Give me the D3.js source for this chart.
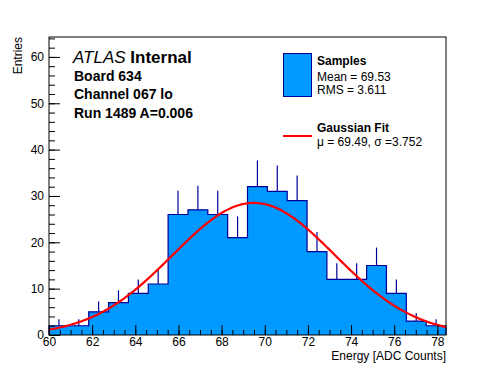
<!DOCTYPE html>
<html>
<head>
<meta charset="utf-8">
<script src="https://cdn.jsdelivr.net/npm/d3@7"></script>
<style>
  body { margin: 0; background: #fff; }
  svg { display: block; font-family: "Liberation Sans", Arial, Helvetica, sans-serif; }
</style>
</head>
<body>
<svg id="chart" width="496" height="372"></svg>
<script>
// histogram data
var binLow = [60, 60.92, 61.84, 62.76, 63.68, 64.6, 65.52, 66.44, 67.36, 68.28,
              69.2, 70.12, 71.04, 71.96, 72.88, 73.8, 74.72, 75.64, 76.56, 77.48];
var binWidth = 0.92;
var counts = [2, 2, 5, 7, 9, 11, 26, 27, 26, 21, 32, 31, 29, 18, 12, 12, 15, 9, 3, 2];
var errors = [1.41, 1.41, 2.24, 2.65, 3, 3.32, 5.1, 5.2, 5.1, 4.58,
              5.66, 5.57, 5.39, 4.24, 3.46, 3.46, 3.87, 3, 1.73, 1.41];

// gaussian fit parameters
var fitMean = 69.49;
var fitSigma = 3.752;
var fitAmp = 28.5;

var xTicks = [60, 62, 64, 66, 68, 70, 72, 74, 76, 78];
var yTicks = [0, 10, 20, 30, 40, 50, 60];

var svg = d3.select("#chart");
var padL = 49, padR = 446, padT = 37, padB = 335;

var x = d3.scaleLinear().domain([60, 78.4]).range([padL, padR]);
var y = d3.scaleLinear().domain([0, 64.3]).range([padB, padT]);

var fillColor = "#0099ff";
var lineColor = "#000099";

// histogram as a step outline
var pts = [[binLow[0], 0]];
counts.forEach(function (c, i) {
    pts.push([binLow[i], c]);
    pts.push([binLow[i] + binWidth, c]);
});
pts.push([binLow[binLow.length - 1] + binWidth, 0]);

var line = d3.line()
    .x(function (d) { return x(d[0]); })
    .y(function (d) { return y(d[1]); });

svg.append("path")
    .attr("d", line(pts))
    .attr("fill", fillColor)
    .attr("stroke", lineColor)
    .attr("stroke-width", 1.2);

// error bars (upper half, lower half hidden inside the fill)
svg.append("g").selectAll("line")
    .data(counts)
    .enter()
    .append("line")
    .attr("x1", function (d, i) { return x(binLow[i] + binWidth / 2); })
    .attr("x2", function (d, i) { return x(binLow[i] + binWidth / 2); })
    .attr("y1", function (d) { return y(d); })
    .attr("y2", function (d, i) { return y(d + errors[i]); })
    .attr("stroke", lineColor)
    .attr("stroke-width", 1.2);

// gaussian fit curve
var fx = d3.range(0, 401).map(function (k) { return 60 + k * 18.4 / 400; });
svg.append("path")
    .attr("d", d3.line()
        .x(function (d) { return x(d); })
        .y(function (d) {
            return y(fitAmp * Math.exp(-0.5 * Math.pow((d - fitMean) / fitSigma, 2)));
        })(fx))
    .attr("fill", "none")
    .attr("stroke", "#ff0000")
    .attr("stroke-width", 2.2);

// frame
svg.append("rect")
    .attr("x", padL).attr("y", padT)
    .attr("width", padR - padL).attr("height", padB - padT)
    .attr("fill", "none")
    .attr("stroke", "#000")
    .attr("stroke-width", 1);

// x axis ticks (inside)
var xMinor = d3.range(60, 78.41, 0.5);
svg.append("g")
    .attr("transform", "translate(0," + padB + ")")
    .call(d3.axisBottom(x).tickValues(xMinor).tickSize(-5).tickFormat(""))
    .call(function (g) { g.select(".domain").remove(); });
svg.append("g")
    .attr("transform", "translate(0," + padB + ")")
    .call(d3.axisBottom(x).tickValues(xTicks).tickSize(-10).tickPadding(2.5)
        .tickFormat(d3.format("d")))
    .call(function (g) {
        g.select(".domain").remove();
        g.selectAll("text").attr("font-size", 12).attr("font-family", null)
            .attr("fill", "#000");
    });

// y axis ticks (inside)
var yMinor = d3.range(0, 64.1, 2);
svg.append("g")
    .attr("transform", "translate(" + padL + ",0)")
    .call(d3.axisLeft(y).tickValues(yMinor).tickSize(-6).tickFormat(""))
    .call(function (g) { g.select(".domain").remove(); });
svg.append("g")
    .attr("transform", "translate(" + padL + ",0)")
    .call(d3.axisLeft(y).tickValues(yTicks).tickSize(-11).tickPadding(5)
        .tickFormat(d3.format("d")))
    .call(function (g) {
        g.select(".domain").remove();
        g.selectAll("text").attr("font-size", 12).attr("font-family", null)
            .attr("fill", "#000");
    });

// axis titles
svg.append("text")
    .attr("x", padR).attr("y", 360)
    .attr("text-anchor", "end")
    .attr("font-size", 12)
    .text("Energy [ADC Counts]");

svg.append("text")
    .attr("transform", "translate(22," + padT + ") rotate(-90)")
    .attr("text-anchor", "end")
    .attr("font-size", 12)
    .text("Entries");

// labels top left
var lab = svg.append("text").attr("x", 73).attr("y", 63).attr("font-size", 17);
lab.append("tspan").attr("font-style", "italic").text("ATLAS");
lab.append("tspan").attr("font-weight", "bold").text(" Internal");

var info = ["Board 634", "Channel 067 lo", "Run 1489 A=0.006"];
svg.selectAll(".info")
    .data(info)
    .enter()
    .append("text")
    .attr("class", "info")
    .attr("x", 74)
    .attr("y", function (d, i) { return 81 + i * 18.3; })
    .attr("font-size", 14)
    .attr("font-weight", "bold")
    .text(function (d) { return d; });

// legend
var legend = svg.append("g");
legend.append("rect")
    .attr("x", 283.5).attr("y", 53.5)
    .attr("width", 28).attr("height", 43)
    .attr("fill", fillColor)
    .attr("stroke", lineColor)
    .attr("stroke-width", 1);
legend.append("text").attr("x", 317).attr("y", 65)
    .attr("font-size", 12).attr("font-weight", "bold").text("Samples");
legend.append("text").attr("x", 317).attr("y", 80.5)
    .attr("font-size", 12).text("Mean = 69.53");
legend.append("text").attr("x", 317).attr("y", 94)
    .attr("font-size", 12).text("RMS = 3.611");

legend.append("line")
    .attr("x1", 283).attr("x2", 312)
    .attr("y1", 136).attr("y2", 136)
    .attr("stroke", "#ff0000")
    .attr("stroke-width", 2);
legend.append("text").attr("x", 317).attr("y", 132)
    .attr("font-size", 12).attr("font-weight", "bold").text("Gaussian Fit");
legend.append("text").attr("x", 317).attr("y", 145.5)
    .attr("font-size", 12).text("\u03bc = 69.49, \u03c3 =3.752");
</script>
</body>
</html>
